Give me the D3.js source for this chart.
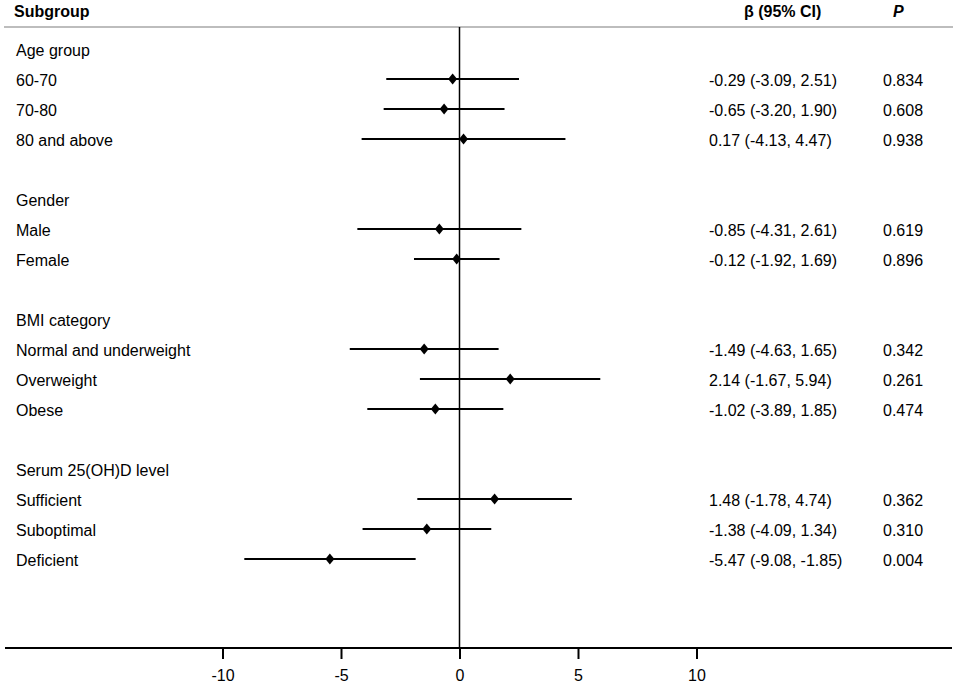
<!DOCTYPE html>
<meta charset="utf-8">
<script src="https://d3js.org/d3.v7.min.js"></script>
<style>
  body { margin: 0; background: #fff; }
  text { font-family: "Liberation Sans", Arial, sans-serif; fill: #000; }
</style>
<div id="forest"></div>
<script>

var width = 957, height = 685;

// rows of the plot, top to bottom ("" = blank spacer row)
var labels = ["Age group", "60-70", "70-80", "80 and above", "",
  "Gender", "Male", "Female", "",
  "BMI category", "Normal and underweight", "Overweight", "Obese", "",
  "Serum 25(OH)D level", "Sufficient", "Suboptimal", "Deficient"];
// estimates (null for heading / blank rows)
var beta  = [null, -0.29, -0.65, 0.17, null, null, -0.85, -0.12, null, null, -1.49, 2.14, -1.02, null, null, 1.48, -1.38, -5.47];
var lower = [null, -3.09, -3.20, -4.13, null, null, -4.31, -1.92, null, null, -4.63, -1.67, -3.89, null, null, -1.78, -4.09, -9.08];
var upper = [null, 2.51, 1.90, 4.47, null, null, 2.61, 1.69, null, null, 1.65, 5.94, 1.85, null, null, 4.74, 1.34, -1.85];
var pvals = ["", "0.834", "0.608", "0.938", "", "", "0.619", "0.896", "", "", "0.342", "0.261", "0.474", "", "", "0.362", "0.310", "0.004"];
var tickVals = [-10, -5, 0, 5, 10];

var rows = labels.map(function(d, i) {
  return {label: d, beta: beta[i], lo: lower[i], hi: upper[i], p: pvals[i], i: i};
});

var svg = d3.select("#forest").append("svg")
  .attr("width", width)
  .attr("height", height);

var x = d3.scaleLinear().domain([-10, 10]).range([222.5, 696.5]);
var y = d3.scaleLinear().domain([0, 17]).range([49, 559]);
var axisY = 648;

// header
svg.append("text").attr("x", 14).attr("y", 17)
  .style("font-size", "16px").style("font-weight", "bold").text("Subgroup");
svg.append("text").attr("x", 744).attr("y", 17)
  .style("font-size", "16px").style("font-weight", "bold").text("β (95% CI)");
svg.append("text").attr("x", 893).attr("y", 17)
  .style("font-size", "16px").style("font-weight", "bold").style("font-style", "italic").text("P");
svg.append("line")
  .attr("x1", 4).attr("x2", 953).attr("y1", 27).attr("y2", 27)
  .attr("stroke", "#bdbdbd").attr("stroke-width", 2);

// reference line at 0
svg.append("line")
  .attr("x1", x(0)).attr("x2", x(0)).attr("y1", 27).attr("y2", axisY)
  .attr("stroke", "#000").attr("stroke-width", 1.5);

// x axis
svg.append("line")
  .attr("x1", 5).attr("x2", 952).attr("y1", axisY).attr("y2", axisY)
  .attr("stroke", "#000").attr("stroke-width", 2);
var xAxis = svg.append("g")
  .attr("transform", "translate(0," + axisY + ")")
  .call(d3.axisBottom(x).tickValues(tickVals).tickFormat(function(d) { return String(d); })
    .tickSize(11).tickPadding(11).tickSizeOuter(0));
xAxis.select(".domain").remove();
xAxis.selectAll("line").attr("stroke", "#000").attr("stroke-width", 2);
xAxis.selectAll("text").style("font-size", "16px").attr("fill", "#000")
  .style("font-family", "'Liberation Sans', Arial, sans-serif");

// row labels
svg.selectAll(".lab").data(rows).enter().append("text")
  .attr("class", "lab")
  .attr("x", 16)
  .attr("y", function(d) { return y(d.i) + 7; })
  .style("font-size", "16px")
  .text(function(d) { return d.label; });

var est = rows.filter(function(d) { return d.beta !== null; });

// CI whiskers
svg.selectAll(".ci").data(est).enter().append("line")
  .attr("class", "ci")
  .attr("x1", function(d) { return x(d.lo); })
  .attr("x2", function(d) { return x(d.hi); })
  .attr("y1", function(d) { return y(d.i); })
  .attr("y2", function(d) { return y(d.i); })
  .attr("stroke", "#000").attr("stroke-width", 2.2);

// point estimates
svg.selectAll(".pt").data(est).enter().append("path")
  .attr("class", "pt")
  .attr("transform", function(d) { return "translate(" + x(d.beta) + "," + y(d.i) + ")"; })
  .attr("d", "M0,-5.5L4.5,0L0,5.5L-4.5,0Z")
  .attr("fill", "#000");

// text columns (plain hyphen as minus, like the original)
function fmt(v) { return v.toFixed(2); }
svg.selectAll(".est").data(est).enter().append("text")
  .attr("class", "est")
  .attr("x", 709)
  .attr("y", function(d) { return y(d.i) + 7; })
  .style("font-size", "16px")
  .text(function(d) { return fmt(d.beta) + " (" + fmt(d.lo) + ", " + fmt(d.hi) + ")"; });

svg.selectAll(".pv").data(est).enter().append("text")
  .attr("class", "pv")
  .attr("x", 883)
  .attr("y", function(d) { return y(d.i) + 7; })
  .style("font-size", "16px")
  .text(function(d) { return d.p; });

</script>
